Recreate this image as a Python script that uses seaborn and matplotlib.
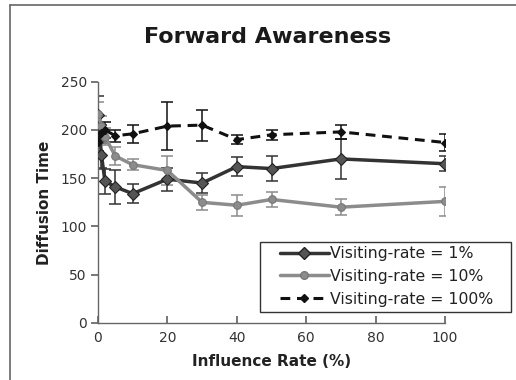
import matplotlib
matplotlib.use("Agg")
import matplotlib.pyplot as plt
import seaborn as sns
import pandas as pd
from matplotlib.lines import Line2D
from matplotlib.patches import Rectangle

influence = [0, 1, 2, 5, 10, 20, 30, 40, 50, 70, 100]
vr1 = [215, 174, 147, 141, 134, 149, 145, 162, 160, 170, 165]
vr1_err = [20, 13, 13, 18, 10, 12, 10, 10, 13, 21, 8]
vr10 = [217, 204, 193, 173, 164, 158, 125, 122, 128, 120, 126]
vr10_err = [12, 10, 9, 9, 6, 15, 8, 11, 8, 8, 15]
vr100 = [188, 197, 200, 194, 196, 204, 205, 190, 195, 198, 187]
vr100_err = [10, 8, 8, 6, 9, 25, 16, 5, 5, 7, 9]
labels = ["Visiting-rate = 1%", "Visiting-rate = 10%", "Visiting-rate = 100%"]

sns.set_theme(style="white")
plt.rcParams["font.family"] = ["DejaVu Sans"]

fig = plt.figure(figsize=(5.16, 3.80), dpi=100)
ax = fig.add_axes([98/516, 1-323/380, (445-98)/516, (323-81.7)/380])

styles = [
    dict(color="#333333", marker="D", ms=6.5, lw=2.5, ls="-", mfc="#555555", mec="#222222"),
    dict(color="#8c8c8c", marker="o", ms=5.5, lw=2.5, ls="-", mfc="#8c8c8c", mec="#777777"),
    dict(color="#111111", marker="D", ms=4.5, lw=2.2, ls=(0, (3.2, 2.2)), mfc="#111111", mec="#111111"),
]
series = [(vr1, vr1_err), (vr10, vr10_err), (vr100, vr100_err)]

handles = []
for (vals, errs), st, lab in zip(series, styles, labels):
    df = pd.DataFrame({"x": influence, "y": vals})
    ax.errorbar(influence, vals, yerr=errs, fmt="none", ecolor=st["color"],
                elinewidth=1.1, capsize=4.5, capthick=1.1, zorder=2)
    sns.lineplot(data=df, x="x", y="y", ax=ax, color=st["color"], lw=st["lw"],
                 linestyle=st["ls"], marker=st["marker"], markersize=st["ms"],
                 markerfacecolor=st["mfc"], markeredgecolor=st["mec"], markeredgewidth=0.8,
                 zorder=3)
    handles.append(Line2D([], [], color=st["color"], lw=st["lw"], ls=st["ls"],
                          marker=st["marker"], ms=st["ms"], mfc=st["mfc"], mec=st["mec"]))

ax.set_xlim(0, 100)
ax.set_ylim(0, 250)
ax.set_xticks([0, 20, 40, 60, 80, 100])
ax.set_yticks([0, 50, 100, 150, 200, 250])
for s in ["top", "right"]:
    ax.spines[s].set_visible(False)
for s in ["left", "bottom"]:
    ax.spines[s].set_color("#666666")
    ax.spines[s].set_linewidth(1.0)
ax.tick_params(axis="x", direction="in", length=5, color="#666666", labelsize=10,
               labelcolor="#333333", pad=6)
ax.tick_params(axis="y", direction="out", length=5, color="#666666", labelsize=10,
               labelcolor="#333333", pad=3, left=True)
ax.tick_params(axis="x", bottom=True)
ax.set_xlabel("Influence Rate (%)", fontsize=11, fontweight="bold", color="#222222", labelpad=6)
ax.set_ylabel("Diffusion Time", fontsize=11, fontweight="bold", color="#222222", labelpad=6)

fig.text(268/516, 1-37/380, "Forward Awareness", ha="center", va="center",
         fontsize=16, fontweight="bold", color="#1a1a1a")

# legend box (frame drawn separately to match padding)
fig.add_artist(Rectangle((260/516, 1-312/380), (511-260)/516, (312-242)/380,
                         transform=fig.transFigure, facecolor="white", edgecolor="#333333",
                         lw=1.0, zorder=4))
leg = fig.legend(handles, labels, loc="upper left",
                 bbox_to_anchor=(280/516, 1-246/380), fontsize=11.3,
                 frameon=False, handlelength=3.1,
                 handletextpad=0.1, borderpad=0, labelspacing=0.5, borderaxespad=0)
leg.set_zorder(5)
for t in leg.get_texts():
    t.set_color("#222222")

# outer frame (chart area border)
fig.add_artist(Line2D([10/516, 10/516], [0, 1-5/380], color="#666666", lw=1.2, transform=fig.transFigure))
fig.add_artist(Line2D([10/516, 1], [1-5/380, 1-5/380], color="#666666", lw=1.2, transform=fig.transFigure))

fig.savefig("out.png", dpi=100)
